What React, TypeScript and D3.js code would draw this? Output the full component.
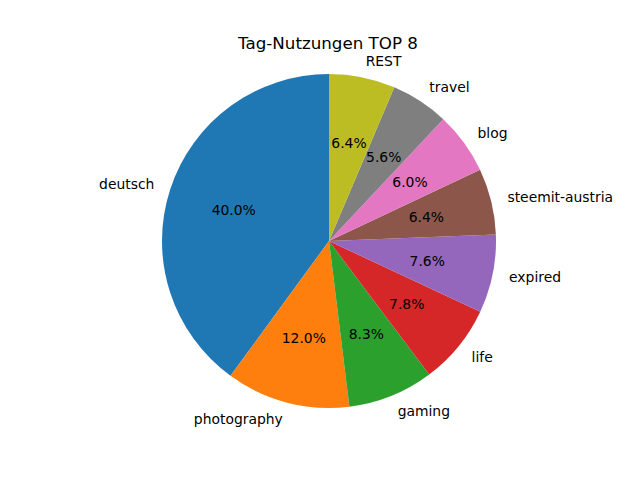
import React from 'react';
import * as d3 from 'd3';

const labels = ['deutsch', 'photography', 'gaming', 'life', 'expired', 'steemit-austria', 'blog', 'travel', 'REST'];
const values = [40.0, 12.0, 8.3, 7.8, 7.6, 6.4, 6.0, 5.6, 6.4];
const colors = ['#1f77b4', '#ff7f0e', '#2ca02c', '#d62728', '#9467bd', '#8c564b', '#e377c2', '#7f7f7f', '#bcbd22'];

const width = 640;
const height = 480;
const cx = 329;
const cy = 241;
const r = 167;
const font = 'DejaVu Sans, sans-serif';

export default function App() {
  // matplotlib: startangle 90, counterclockwise
  const pie = d3.pie<number>().sort(null).startAngle(0).endAngle(-2 * Math.PI);
  const arcs = pie(values);
  const arc = d3.arc<d3.PieArcDatum<number>>().innerRadius(0).outerRadius(r);
  const total = d3.sum(values);

  return (
    <svg width={width} height={height} style={{ position: 'absolute', left: 0, top: 0, background: '#fff' }}>
      <text x={328} y={49} textAnchor="middle" fontFamily={font} fontSize={16.7}>
        Tag-Nutzungen TOP 8
      </text>
      <g transform={`translate(${cx},${cy})`}>
        {arcs.map((a, i) => {
          const mid = (a.startAngle + a.endAngle) / 2;
          const sx = Math.sin(mid);
          const sy = -Math.cos(mid);
          const lx = sx * r * 1.1;
          const ly = sy * r * 1.1;
          const px = sx * r * 0.6;
          const py = sy * r * 0.6;
          return (
            <g key={labels[i]}>
              <path d={arc(a) || ''} fill={colors[i]} />
              <text x={lx} y={ly} dy="0.35em" textAnchor={lx > 0 ? 'start' : 'end'} fontFamily={font} fontSize={13.9}>
                {labels[i]}
              </text>
              <text x={px} y={py} dy="0.35em" textAnchor="middle" fontFamily={font} fontSize={13.9}>
                {`${((values[i] / total) * 100).toFixed(1)}%`}
              </text>
            </g>
          );
        })}
      </g>
    </svg>
  );
}
